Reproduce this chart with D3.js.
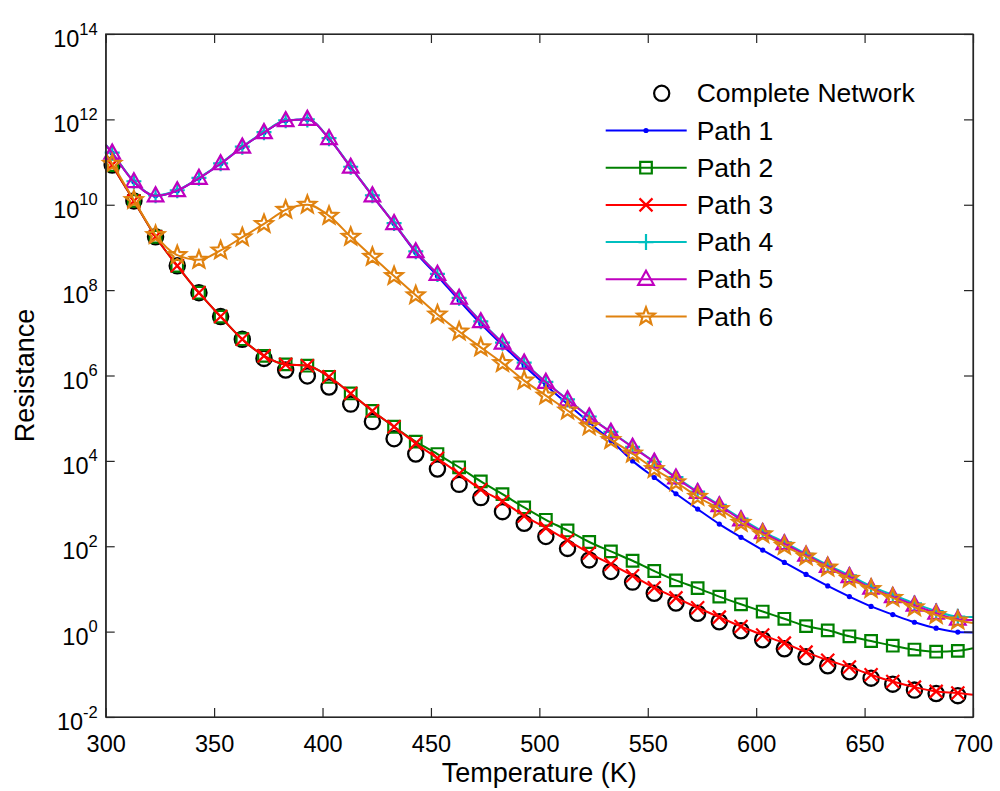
<!DOCTYPE html>
<html><head><meta charset="utf-8">
<script src="https://cdn.jsdelivr.net/npm/d3@7"></script>
<style>
body{margin:0;background:#fff}
text{font-family:Arial,"Liberation Sans",Helvetica,sans-serif;fill:#000}
</style>
</head><body>
<svg id="chart" width="1000" height="791"></svg>
<script>
// ---- data (resistance given as log10 values) ----
const markerTemperature = [303,313,323,333,343,353,363,373,383,393,403,413,423,433,443,453,463,473,483,493,
  503,513,523,533,543,553,563,573,583,593,603,613,623,633,643,653,663,673,683,693];
const lineTemperature = [300,303,313,323,333,343,353,363,373,383,393,403,413,423,433,443,453,463,473,483,493,
  503,513,523,533,543,553,563,573,583,593,603,613,623,633,643,653,663,673,683,693,700];

const completeNetworkLog = [10.93,10.09,9.25,8.57,7.94,7.38,6.85,6.40,6.13,5.99,
  5.73,5.33,4.92,4.52,4.16,3.81,3.45,3.14,2.81,2.54,
  2.23,1.95,1.68,1.41,1.16,0.90,0.67,0.43,0.23,0.02,
  -0.19,-0.40,-0.59,-0.80,-0.94,-1.09,-1.23,-1.37,-1.45,-1.50];
const path1Log = [11.40, 11.21,10.54,10.21,10.33,10.62,10.96,11.35,11.69,11.97,12.00,
  11.55,10.88,10.21,9.56,8.88,8.33,7.76,7.21,6.71,6.23,
  5.77,5.33,4.90,4.48,4.00,3.61,3.23,2.87,2.52,2.21,
  1.91,1.62,1.34,1.07,0.82,0.59,0.40,0.22,0.08,-0.01, -0.02];
const path2Log = [11.20, 10.93,10.09,9.25,8.57,7.94,7.38,6.85,6.46,6.26,6.23,
  5.97,5.58,5.17,4.80,4.45,4.16,3.85,3.52,3.22,2.91,
  2.62,2.37,2.10,1.88,1.66,1.42,1.20,1.02,0.82,0.64,
  0.47,0.30,0.13,0.03,-0.11,-0.22,-0.33,-0.42,-0.47,-0.45, -0.39];
const path3Log = [11.20, 10.93,10.09,9.25,8.57,7.94,7.38,6.85,6.46,6.26,6.23,
  5.97,5.58,5.17,4.80,4.41,4.06,3.70,3.33,3.05,2.71,
  2.43,2.14,1.84,1.58,1.31,1.03,0.79,0.56,0.34,0.12,
  -0.08,-0.27,-0.48,-0.67,-0.83,-1.01,-1.17,-1.30,-1.40,-1.44, -1.48];
const path4Log = [11.41, 11.22,10.55,10.22,10.34,10.63,10.97,11.36,11.70,11.98,12.00,
  11.56,10.89,10.22,9.57,8.91,8.38,7.82,7.27,6.77,6.30,
  5.85,5.44,5.04,4.68,4.33,3.98,3.62,3.28,2.97,2.65,
  2.35,2.09,1.82,1.56,1.32,1.06,0.86,0.66,0.48,0.35, 0.34];
const path5Log = [11.40, 11.21,10.54,10.21,10.33,10.62,10.96,11.35,11.69,11.97,12.00,
  11.55,10.88,10.21,9.56,8.90,8.37,7.81,7.26,6.76,6.29,
  5.84,5.43,5.03,4.67,4.32,3.97,3.60,3.26,2.95,2.62,
  2.32,2.06,1.79,1.53,1.29,1.02,0.82,0.62,0.43,0.29, 0.27];
const path6Log = [11.20, 10.96,10.11,9.29,8.82,8.71,8.93,9.24,9.55,9.88,10.00,
  9.74,9.25,8.78,8.33,7.88,7.43,7.03,6.66,6.29,5.88,
  5.53,5.18,4.81,4.49,4.17,3.81,3.50,3.16,2.87,2.55,
  2.28,2.01,1.76,1.50,1.24,1.00,0.79,0.57,0.39,0.26, 0.20];

const xTicks = [300,350,400,450,500,550,600,650,700];
const yTickExponents = [-2,0,2,4,6,8,10,12,14];
const seriesNames = ["Complete Network","Path 1","Path 2","Path 3","Path 4","Path 5","Path 6"];
const seriesColors = ["#000000","#0000ff","#008000","#ff0000","#00bfbf","#bf00bf","#e0820f"];

// ---- layout ----
const svg = d3.select("#chart");
const L = 105.7, R = 973, T = 34, B = 717;
const x = d3.scaleLinear().domain([300,700]).range([L,R]);
const y = d3.scaleLog().domain([1e-2,1e14]).range([B,T]);
const axisColor = "#262626";

// marker shapes
function starPath(Ro, Ri){
  let p=[];
  for(let i=0;i<10;i++){
    const a = -Math.PI/2 + i*Math.PI/5;
    const r = i%2===0?Ro:Ri;
    p.push([r*Math.cos(a), r*Math.sin(a)]);
  }
  return "M"+p.map(d=>d[0].toFixed(2)+","+d[1].toFixed(2)).join("L")+"Z";
}
const markerShapes = {
  circle: "M7.6,0A7.6,7.6 0 1,1 -7.6,0A7.6,7.6 0 1,1 7.6,0Z",
  dot: "M2.6,0A2.6,2.6 0 1,1 -2.6,0A2.6,2.6 0 1,1 2.6,0Z",
  square: "M-5.8,-5.8L5.8,-5.8L5.8,5.8L-5.8,5.8Z",
  times: "M-6.5,-6.5L6.5,6.5M-6.5,6.5L6.5,-6.5",
  plus: "M-7.5,0L7.5,0M0,-8L0,8",
  triangle: "M0,-8.5L7.8,5.5L-7.8,5.5Z",
  star: starPath(9.2,3.9)
};
const seriesMarkers = ["circle","dot","square","times","plus","triangle","star"];

const lineSeries = [path1Log,path2Log,path3Log,path4Log,path5Log,path6Log];

const plot = svg.append("g");
const line = d3.line().x(d=>x(d[0])).y(d=>y(d[1])).curve(d3.curveMonotoneX);

// Complete network markers (no line)
plot.append("g").selectAll("path")
  .data(markerTemperature.map((t,i)=>[t, Math.pow(10, completeNetworkLog[i])]))
  .join("path")
  .attr("transform", d=>`translate(${x(d[0])},${y(d[1])})`)
  .attr("d", markerShapes.circle)
  .attr("fill","none").attr("stroke","#000").attr("stroke-width",2.3);

lineSeries.forEach((vals, k)=>{
  const color = seriesColors[k+1];
  const pts = lineTemperature.map((t,i)=>[t, Math.pow(10, vals[i])]);
  const g = plot.append("g");
  g.append("path").datum(pts).attr("d", line)
    .attr("fill","none").attr("stroke",color).attr("stroke-width",2);
  const mk = seriesMarkers[k+1];
  g.selectAll("path.m").data(pts.slice(1, pts.length-1)).join("path").attr("class","m")
    .attr("transform", d=>`translate(${x(d[0])},${y(d[1])})`)
    .attr("d", markerShapes[mk])
    .attr("fill", mk==="dot"?color:"none")
    .attr("stroke", color).attr("stroke-width", mk==="dot"?0:2.2);
});

// ---- axes (box with inward ticks) ----
const tickLen = 9;
const ax = svg.append("g");
const xb = ax.append("g").attr("transform",`translate(0,${B})`)
  .call(d3.axisBottom(x).tickValues(xTicks).tickSizeInner(-tickLen).tickSizeOuter(0).tickPadding(tickLen+9).tickFormat(d3.format("d")));
const xt = ax.append("g").attr("transform",`translate(0,${T})`)
  .call(d3.axisTop(x).tickValues(xTicks).tickSizeInner(-tickLen).tickSizeOuter(0).tickFormat(""));
const yTickValues = yTickExponents.map(e=>Math.pow(10,e));
const yl = ax.append("g").attr("transform",`translate(${L},0)`)
  .call(d3.axisLeft(y).tickValues(yTickValues).tickSizeInner(-tickLen).tickSizeOuter(0).tickFormat(""));
const yr = ax.append("g").attr("transform",`translate(${R},0)`)
  .call(d3.axisRight(y).tickValues(yTickValues).tickSizeInner(-tickLen).tickSizeOuter(0).tickFormat(""));
ax.selectAll(".domain").attr("stroke",axisColor).attr("stroke-width",1.2);
ax.selectAll(".tick line").attr("stroke",axisColor).attr("stroke-width",1.2);
xb.selectAll(".tick text").attr("font-size",23.5).attr("fill","#000")
  .attr("font-family","Arial, 'Liberation Sans', sans-serif");
ax.append("rect").attr("x",L).attr("y",T).attr("width",R-L).attr("height",B-T)
  .attr("fill","none").attr("stroke",axisColor).attr("stroke-width",1.2);

// y tick labels with superscripts
yTickExponents.forEach(e=>{
  const yy = y(Math.pow(10,e));
  const t = svg.append("text").attr("x", L-8).attr("y", yy+13)
    .attr("text-anchor","end").attr("font-size",23.5);
  t.append("tspan").text("10");
  t.append("tspan").attr("font-size",16.5).attr("dy",-12.5).text(String(e));
});

// axis titles
svg.append("text").attr("x",(L+R)/2).attr("y",782).attr("text-anchor","middle")
  .attr("font-size",27).text("Temperature (K)");
svg.append("text").attr("transform",`translate(34,${(T+B)/2}) rotate(-90)`)
  .attr("text-anchor","middle").attr("font-size",27).text("Resistance");

// ---- legend ----
const legendRowY = [93.3,130.5,167.7,204.9,242.1,279.3,316.5];
const lg = svg.append("g");
seriesNames.forEach((name,i)=>{
  const yy = legendRowY[i];
  const color = seriesColors[i];
  const mk = seriesMarkers[i];
  if(i>0){
    lg.append("line").attr("x1",605.7).attr("x2",686.7).attr("y1",yy).attr("y2",yy)
      .attr("stroke",color).attr("stroke-width",2);
  }
  const mx = i===0?661.7:646;
  lg.append("path").attr("transform",`translate(${mx},${yy})`).attr("d",markerShapes[mk])
    .attr("fill", mk==="dot"?color:"none").attr("stroke",color).attr("stroke-width", mk==="dot"?0:2.2);
  lg.append("text").attr("x",696.7).attr("y",yy+9).attr("font-size",26.5).text(name);
});
</script>
</body></html>
